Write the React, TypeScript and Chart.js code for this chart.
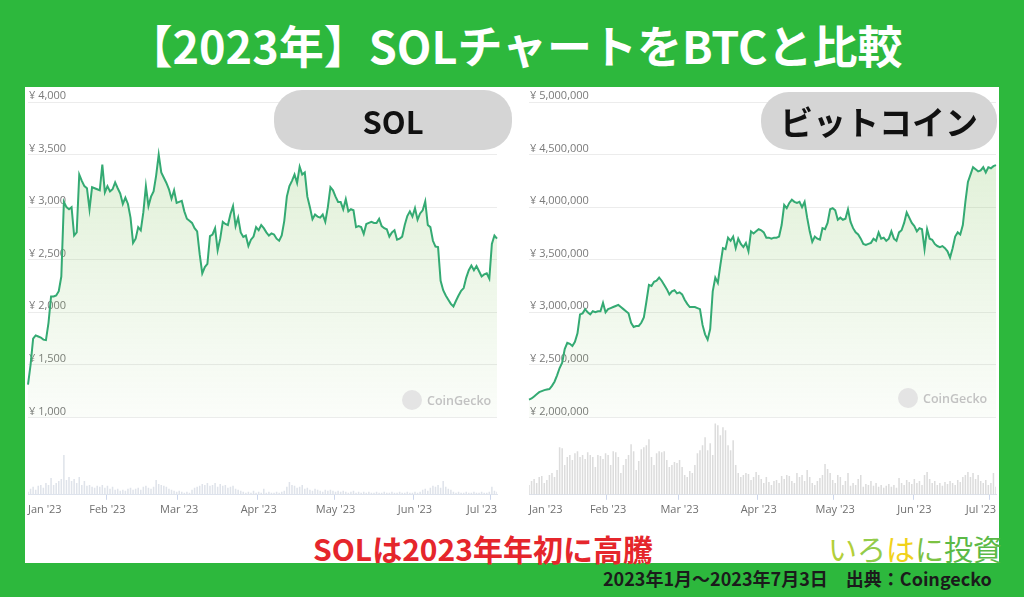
import React, { useEffect, useRef } from "react";
import { Chart, registerables } from "chart.js";

Chart.register(...registerables);

// ---------- data ----------
const tickDayIndex = [0, 31, 59, 90, 120, 151, 181];
const tickLabels = ["Jan '23", "Feb '23", "Mar '23", "Apr '23", "May '23", "Jun '23", "Jul '23"];

// SOL price in JPY, daily 2023-01-01 .. 2023-07-03
const solPriceYen = [
  1311, 1500, 1750, 1780, 1770, 1760, 1740, 1735, 1900, 2150,
  2150, 2160, 2200, 2340, 3050, 3000, 2980, 3000, 2730, 2760,
  3310, 3250, 3200, 3180, 2980, 3190, 3180, 3170, 3160, 3405,
  3140, 3200, 3150, 3170, 3236, 3180, 3130, 3030, 3090, 3030,
  2900, 2660, 2700, 2810, 2780, 2950, 3200, 3010, 3100, 3150,
  3300, 3500, 3330, 3280, 3230, 3170, 3080, 3160, 3040, 3050,
  3060, 2960, 2890, 2870, 2850, 2800, 2770, 2550, 2370, 2430,
  2460, 2725, 2740, 2800, 2590, 2700, 2860, 2840, 2830, 2935,
  3010, 2820, 2900, 2760, 2717, 2730, 2630, 2690, 2720, 2810,
  2780, 2830, 2800, 2760, 2730, 2750, 2740, 2700, 2680, 2730,
  2870, 3100, 3200, 3250, 3310, 3230, 3385, 3310, 3330, 3100,
  3000, 2885, 2930, 2910, 2900, 2930, 2860, 3000, 3190, 3160,
  3100, 3050, 3050, 2980, 3075, 2960, 2980, 2970, 2810, 2820,
  2810, 2745, 2840, 2850, 2860, 2850, 2850, 2890, 2820, 2800,
  2790, 2720, 2760, 2780, 2690, 2700, 2720, 2830, 2915, 2960,
  2910, 2990, 2880, 2940, 2970, 3055, 2830, 2810, 2680, 2625,
  2620, 2300, 2210, 2160, 2120, 2080, 2055, 2110, 2160, 2205,
  2230, 2330, 2400, 2445, 2400, 2440, 2390, 2340, 2360, 2370,
  2320, 2650, 2730, 2700,
];

// SOL trading volume (relative index)
const solVolume = [
  3, 6, 8, 5, 9, 10, 7, 12, 10, 17,
  10, 12, 14, 16, 40, 15, 18, 14, 16, 12,
  18, 10, 14, 9, 10, 8, 7, 9, 8, 10,
  7, 9, 6, 8, 5, 6, 4, 5, 4, 6,
  7, 5, 6, 7, 5, 8, 9, 7, 6, 8,
  15, 11, 10, 9, 8, 6, 5, 4, 3, 4,
  3, 2, 3, 2, 5, 7, 8, 9, 11, 10,
  12, 9, 10, 12, 8, 11, 9, 10, 7, 8,
  9, 6, 5, 4, 3, 2, 3, 2, 4, 2,
  3, 2, 6, 2, 3, 2, 2, 3, 2, 3,
  4, 8, 13, 10, 9, 7, 8, 10, 6, 7,
  5, 4, 6, 5, 4, 3, 5, 4, 5, 4,
  3, 4, 3, 4, 3, 2, 3, 4, 2, 3,
  2, 3, 2, 3, 2, 2, 3, 2, 2, 3,
  2, 2, 3, 2, 2, 3, 2, 2, 3, 2,
  2, 3, 2, 3, 5, 6, 4, 7, 9, 8,
  10, 7, 14, 8, 6, 5, 3, 2, 3, 2,
  2, 3, 2, 2, 3, 2, 2, 3, 2, 2,
  3, 8, 4, 3,
];

// BTC price in thousand JPY, daily 2023-01-01 .. 2023-07-03
const btcPriceThousandYen = [
  2170, 2180, 2200, 2220, 2240, 2250, 2260, 2265, 2270, 2300,
  2340, 2400, 2470, 2520, 2650, 2710, 2700, 2680, 2720, 2800,
  2980, 2990, 3030, 3000, 2980, 3010, 3000, 3010, 3010, 3090,
  3000, 3030, 3040, 3050, 3060, 3070, 3050, 3030, 3010, 2990,
  2900, 2860, 2870, 2870, 2900, 2950, 3100, 3260, 3250, 3290,
  3300, 3330, 3300, 3260, 3220, 3170, 3200, 3210, 3180, 3190,
  3170, 3120, 3080, 3050, 3050, 3050, 3040, 3030, 2880, 2790,
  2740, 2840, 3200, 3330, 3280, 3450, 3610, 3600, 3710, 3680,
  3720, 3610, 3700, 3650, 3620, 3660, 3580, 3770, 3750, 3770,
  3790, 3780, 3760, 3710, 3710, 3700, 3710, 3710, 3720, 3830,
  4020, 3990, 4040, 4070, 4050, 4040, 4050, 4000, 4050, 3900,
  3770, 3670, 3720, 3700, 3690, 3800, 3790, 3850, 3980, 3990,
  3970, 3880, 3900, 3880, 3890, 3980, 3860, 3800, 3760, 3740,
  3700, 3650, 3640, 3650, 3660, 3700, 3680, 3760, 3700, 3710,
  3680, 3700, 3770, 3700, 3680, 3760, 3780, 3850, 3950, 3900,
  3850, 3820, 3770, 3800, 3790, 3600, 3790, 3700, 3690, 3650,
  3630, 3620, 3630, 3610, 3580, 3520, 3610, 3720, 3760, 3740,
  3830, 4050, 4240, 4310, 4380, 4360, 4340, 4350, 4380, 4330,
  4380, 4370, 4390, 4400,
];

// BTC trading volume (relative index)
const btcVolume = [
  10, 14, 16, 12, 18, 19, 12, 15, 20, 22,
  18, 25, 48, 47, 30, 38, 40, 35, 42, 44,
  38, 40, 36, 43, 40, 38, 28, 40, 39, 36,
  42, 40, 30, 44, 43, 38, 22, 30, 36, 40,
  51, 44, 25, 34, 46, 48, 50, 56, 38, 30,
  42, 44, 43, 44, 35, 28, 30, 33, 32, 35,
  28, 20, 18, 24, 22, 30, 42, 45, 50, 58,
  45, 52, 40, 72, 70, 60, 68, 65, 50, 45,
  55, 30, 22, 18, 20, 22, 21, 15, 18, 23,
  20, 16, 12, 18, 13, 10, 14, 15, 12, 19,
  16, 20, 19, 14, 12, 22, 18, 20, 14, 25,
  18, 12, 10, 14, 17, 20, 31, 26, 22, 15,
  12, 20, 18, 10, 14, 22, 9, 12, 10, 16,
  20, 8, 11, 10, 14, 9, 12, 8, 10, 7,
  9, 11, 8, 10, 7, 17, 12, 10, 15, 13,
  11, 16, 12, 14, 10, 20, 23, 16, 12, 14,
  10, 12, 9, 13, 11, 14, 12, 10, 15, 13,
  18, 20, 23, 18, 22, 16, 20, 14, 12, 15,
  10, 12, 22, 8,
];

const solAxis = { min: 1000, max: 4000, step: 500 };
const btcAxis = { min: 2000000, max: 5000000, step: 500000 };
const volumeAxisMax = 78;

// ---------- styles ----------
const GREEN_BG = "#2db83d";
const LINE_COLOR = "rgb(52,170,115)";
const JP_FONT = "'Noto Sans CJK JP', 'Noto Sans', sans-serif";
const AXIS_FONT = "'Open Sans', 'Noto Sans', sans-serif";

const edgeLabels = {
  id: "edgeLabels",
  beforeDraw(chart: any) {
    const sc = chart.scales.x;
    if (!sc || !sc.getLabelItems) return;
    const items = sc
      .getLabelItems(chart.chartArea)
      .filter((it: any) => it.label && String(it.label).length > 0);
    if (!items.length) return;
    items[0].options.textAlign = "left";
    const last = items[items.length - 1];
    last.options.textAlign = "right";
    last.options.translation = [sc.right, last.options.translation[1]];
  },
};

type PanelProps = {
  prices: number[];
  volumes: number[];
  axis: { min: number; max: number; step: number };
  volColor: string;
  width: number;
  height: number;
  padLeft: number;
  padRight: number;
};

function PriceChart(props: PanelProps) {
  const ref = useRef<HTMLCanvasElement | null>(null);
  useEffect(() => {
    if (!ref.current) return;
    const labels = props.prices.map((_, i) => String(i));
    const chart = new Chart(ref.current, {
      type: "line",
      data: {
        labels,
        datasets: [
          {
            type: "line",
            data: props.prices,
            yAxisID: "y",
            borderColor: LINE_COLOR,
            borderWidth: 2,
            pointRadius: 0,
            tension: 0,
            order: 0,
            fill: "start",
            backgroundColor: (ctx: any) => {
              const ch = ctx.chart;
              const s = ch.scales && ch.scales.y;
              if (!s || !Number.isFinite(s.top) || !Number.isFinite(s.bottom) || s.bottom <= s.top) {
                return "rgba(120,190,80,0.15)";
              }
              const g = ch.ctx.createLinearGradient(0, s.top, 0, s.bottom);
              g.addColorStop(0, "rgba(120,190,80,0.26)");
              g.addColorStop(1, "rgba(120,190,80,0.03)");
              return g;
            },
          } as any,
          {
            type: "bar",
            data: props.volumes,
            yAxisID: "y2",
            backgroundColor: props.volColor,
            borderWidth: 0,
            barPercentage: 0.6,
            categoryPercentage: 1,
            order: 1,
          } as any,
        ],
      },
      options: {
        animation: false,
        responsive: false,
        maintainAspectRatio: false,
        events: [],
        layout: { padding: { left: props.padLeft, right: props.padRight, top: 16, bottom: 1 } },
        plugins: { legend: { display: false }, tooltip: { enabled: false } },
        scales: {
          x: {
            type: "category",
            offset: false,
            grid: {
              display: true,
              drawOnChartArea: false,
              drawTicks: true,
              tickLength: 5,
              color: (ctx: any) => (tickDayIndex.includes(ctx.index) ? "#ccd6eb" : "rgba(0,0,0,0)"),
            },
            border: { display: true, color: "#dde3ee", width: 1 },
            ticks: {
              autoSkip: false,
              maxRotation: 0,
              minRotation: 0,
              padding: 3,
              color: "#707070",
              font: { family: AXIS_FONT, size: 11 },
              callback: (_v: any, index: number) => {
                const k = tickDayIndex.indexOf(index);
                return k >= 0 ? tickLabels[k] : "";
              },
            },
            afterFit: (sc: any) => {
              sc.paddingLeft = 0;
              sc.paddingRight = 0;
            },
          },
          y2: {
            type: "linear",
            position: "left",
            stack: "pane",
            stackWeight: 78,
            min: 0,
            max: volumeAxisMax,
            grid: { display: false, drawTicks: false },
            border: { display: false },
            ticks: { display: false },
            afterFit: (sc: any) => {
              sc.paddingTop = 0;
              sc.paddingBottom = 0;
              sc.width = 0;
            },
          },
          y: {
            type: "linear",
            position: "left",
            stack: "pane",
            stackWeight: 318,
            min: props.axis.min,
            max: props.axis.max,
            grid: { color: "#ececec", drawTicks: false },
            border: { display: false },
            ticks: {
              stepSize: props.axis.step,
              mirror: true,
              padding: 1,
              labelOffset: -6,
              color: "#7a7a7a",
              font: { family: AXIS_FONT, size: 11 },
              callback: (v: any) => "¥ " + Number(v).toLocaleString("en-US"),
            },
            afterFit: (sc: any) => {
              sc.paddingTop = 0;
              sc.paddingBottom = 0;
            },
          },
        },
      } as any,
      plugins: [edgeLabels as any],
    });
    return () => chart.destroy();
  }, []);
  return <canvas ref={ref} width={props.width} height={props.height} style={{ display: "block" }} />;
}

function Watermark({ left, top }: { left: number; top: number }) {
  return (
    <div style={{ position: "absolute", left, top, display: "flex", alignItems: "center", gap: 5 }}>
      <div style={{ width: 20, height: 20, borderRadius: 10, background: "#e4e4e4" }} />
      <span style={{ fontFamily: AXIS_FONT, fontSize: 12.5, color: "#c2c2c2", fontWeight: 600 }}>CoinGecko</span>
    </div>
  );
}

export default function App() {
  const btcPriceYen = btcPriceThousandYen.map((v) => v * 1000);
  return (
    <div
      style={{
        position: "absolute",
        left: 0,
        top: 0,
        width: 1024,
        height: 597,
        background: GREEN_BG,
        overflow: "hidden",
        fontFamily: JP_FONT,
      }}
    >
      <div
        style={{
          position: "absolute",
          left: 0,
          top: 17,
          width: 1030,
          textAlign: "center",
          color: "#ffffff",
          fontSize: 45,
          fontWeight: 700,
          lineHeight: "56px",
          whiteSpace: "nowrap",
        }}
      >
        【2023年】SOLチャートをBTCと比較
      </div>

      <div style={{ position: "absolute", left: 25, top: 87, width: 974, height: 476, background: "#ffffff" }} />

      <div style={{ position: "absolute", left: 25, top: 86 }}>
        <PriceChart
          prices={solPriceYen}
          volumes={solVolume}
          axis={solAxis}
          volColor="#dfe3ea"
          width={475}
          height={434}
          padLeft={1}
          padRight={3}
        />
      </div>
      <div style={{ position: "absolute", left: 525, top: 86 }}>
        <PriceChart
          prices={btcPriceYen}
          volumes={btcVolume}
          axis={btcAxis}
          volColor="#dcdcdc"
          width={474}
          height={434}
          padLeft={2}
          padRight={3}
        />
      </div>

      <Watermark left={402} top={390} />
      <Watermark left={898} top={388} />

      <div
        style={{
          position: "absolute",
          left: 274,
          top: 90,
          width: 238,
          height: 60,
          borderRadius: 28,
          background: "#d5d5d5",
          display: "flex",
          alignItems: "center",
          justifyContent: "center",
          fontSize: 31,
          fontWeight: 700,
          color: "#111",
        }}
      >
        SOL
      </div>
      <div
        style={{
          position: "absolute",
          left: 761,
          top: 92,
          width: 236,
          height: 58,
          borderRadius: 28,
          background: "#d5d5d5",
          display: "flex",
          alignItems: "center",
          justifyContent: "center",
          fontSize: 33,
          fontWeight: 700,
          color: "#111",
        }}
      >
        ビットコイン
      </div>

      <div
        style={{
          position: "absolute",
          left: 313,
          top: 530,
          fontSize: 30,
          fontWeight: 700,
          color: "#e5262c",
          lineHeight: "36px",
          whiteSpace: "nowrap",
        }}
      >
        SOLは2023年年初に高騰
      </div>

      <div
        style={{
          position: "absolute",
          left: 828,
          top: 531,
          fontSize: 29,
          fontWeight: 400,
          lineHeight: "34px",
          whiteSpace: "nowrap",
        }}
      >
        <span style={{ color: "#b3cf3a" }}>い</span>
        <span style={{ color: "#93cc4a" }}>ろ</span>
        <span style={{ color: "#f1d21c" }}>は</span>
        <span style={{ color: "#7cc242" }}>に</span>
        <span style={{ color: "#5bb947" }}>投資</span>
      </div>

      <div
        style={{
          position: "absolute",
          left: 603,
          top: 567,
          fontSize: 18,
          fontWeight: 700,
          color: "#1b1b1b",
          lineHeight: "23px",
          whiteSpace: "nowrap",
        }}
      >
        2023年1月〜2023年7月3日　出典：Coingecko
      </div>
    </div>
  );
}
